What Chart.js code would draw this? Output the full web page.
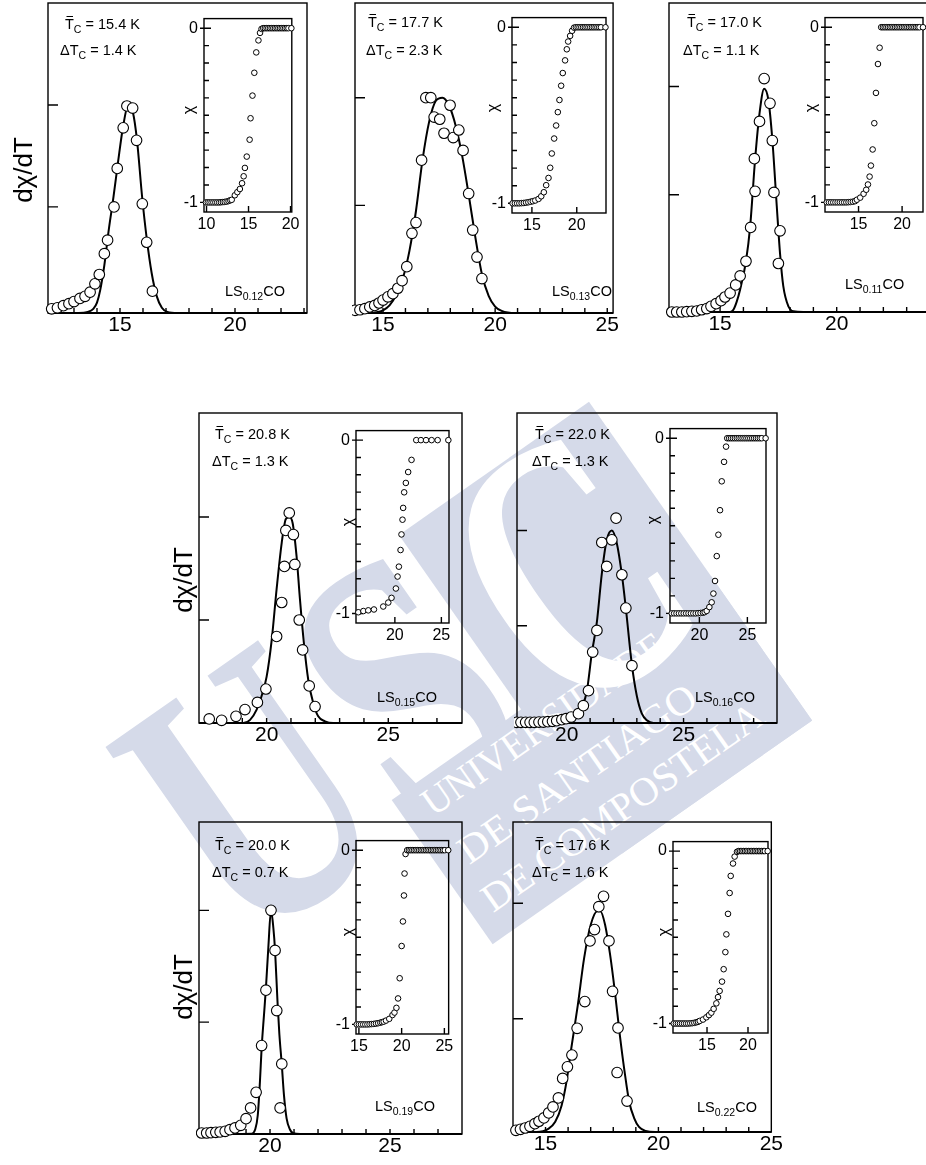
<!DOCTYPE html>
<html>
<head>
<meta charset="utf-8">
<script src="https://cdn.jsdelivr.net/npm/chart.js@4.4.1/dist/chart.umd.min.js"></script>
<style>
  html, body { margin: 0; padding: 0; background: #fff; overflow: hidden; }
  body { width: 926px; height: 1165px; position: relative; }
  .box { position: absolute; z-index: 1; }
  #wm { position: absolute; left: 0; top: 0; z-index: 0; }
  #txt { position: absolute; left: 0; top: 0; z-index: 2; }
</style>
</head>
<body>
<svg id="wm" width="926" height="1165"></svg>
<div id="charts"></div>
<svg id="txt" width="926" height="1165"></svg>
<script>
(function () {
  'use strict';

  // --- Labels ---
  const tcMean  = ['15.4', '17.7', '17.0', '20.8', '22.0', '20.0', '17.6'];
  const tcWidth = ['1.4', '2.3', '1.1', '1.3', '1.3', '0.7', '1.6'];
  const sampleX = ['0.12', '0.13', '0.11', '0.15', '0.16', '0.19', '0.22'];

  // --- LS0.12CO ---
  const ls12_T    = [12.03, 12.28, 12.54, 12.78, 13.00, 13.26, 13.48, 13.70, 13.91, 14.10, 14.32, 14.46, 14.74, 14.88, 15.14, 15.30, 15.55, 15.72, 15.97, 16.16, 16.41];
  const ls12_dchi = [0.04, 0.05, 0.07, 0.09, 0.11, 0.14, 0.16, 0.20, 0.28, 0.37, 0.57, 0.70, 1.02, 1.39, 1.78, 1.99, 1.97, 1.66, 1.05, 0.68, 0.21];
  const ls12_fitT = [11.9, 13.2, 13.6, 13.84, 14.0, 14.14, 14.32, 14.5, 14.72, 14.92, 15.14, 15.36, 15.56, 15.74, 15.96, 16.16, 16.38, 16.6, 16.82, 17.06, 17.5, 23.1];
  const ls12_fit  = [0, 0, 0.01, 0.04, 0.1, 0.22, 0.46, 0.78, 1.12, 1.46, 1.8, 2.0, 1.93, 1.66, 1.12, 0.72, 0.38, 0.16, 0.05, 0.01, 0, 0];
  const ls12_insT = [9.93, 10.15, 10.37, 10.6, 10.82, 11.05, 11.27, 11.5, 11.72, 11.95, 12.17, 12.4, 12.62, 12.82, 13.0, 13.37, 13.67, 13.97, 14.23, 14.42, 14.57, 14.79, 15.13, 15.24, 15.47, 15.69, 15.92, 16.18, 16.37, 16.55, 16.75, 16.95, 17.15, 17.35, 17.55, 17.75, 17.95, 18.15, 18.35, 18.55, 18.75, 18.95, 19.15, 19.35, 19.55, 19.75, 20.1];
  const ls12_insChi = [-1, -1, -1, -1, -1, -1, -1, -1, -0.999, -0.998, -0.997, -0.995, -0.992, -0.988, -0.985, -0.959, -0.941, -0.923, -0.89, -0.85, -0.802, -0.737, -0.64, -0.517, -0.387, -0.256, -0.139, -0.07, -0.027, -0.004, 0, 0, 0, 0, 0, 0, 0, 0, 0, 0, 0, 0, 0, 0, 0, 0, 0];
  const ls12_xMinor = [12, 13, 14, 15, 16, 17, 18, 19, 20, 21, 22, 23];
  const ls12_xLabels = [15, 20];
  const ls12_yTicks = [1.02, 2];
  const ls12_insLabels = [10, 15, 20];

  // --- LS0.13CO ---
  const ls13_T    = [13.75, 13.97, 14.19, 14.41, 14.63, 14.82, 15.0, 15.22, 15.44, 15.66, 15.85, 16.06, 16.29, 16.47, 16.72, 16.91, 17.13, 17.28, 17.53, 17.72, 17.99, 18.13, 18.38, 18.57, 18.82, 19.0, 19.19, 19.41];
  const ls13_dchi = [0.025, 0.03, 0.04, 0.056, 0.07, 0.093, 0.12, 0.15, 0.18, 0.23, 0.30, 0.43, 0.74, 0.84, 1.42, 2.0, 2.0, 1.82, 1.80, 1.67, 1.93, 1.63, 1.70, 1.51, 1.11, 0.77, 0.52, 0.32];
  const ls13_fitT = [13.75, 14.4, 14.7, 15.0, 15.29, 15.59, 15.88, 16.18, 16.47, 16.76, 17.06, 17.35, 17.65, 17.94, 18.24, 18.53, 18.82, 19.12, 19.41, 19.71, 20.0, 20.29, 20.9, 25.26];
  const ls13_fit  = [0, 0, 0.006, 0.025, 0.07, 0.17, 0.32, 0.58, 0.95, 1.42, 1.78, 1.97, 2.0, 1.93, 1.74, 1.46, 1.1, 0.7, 0.36, 0.16, 0.06, 0.02, 0, 0];
  const ls13_insT = [12.85, 13.1, 13.35, 13.6, 13.85, 14.1, 14.35, 14.6, 14.85, 15.1, 15.37, 15.74, 16.04, 16.33, 16.59, 16.85, 17.04, 17.22, 17.48, 17.7, 17.89, 18.07, 18.26, 18.44, 18.7, 18.89, 19.04, 19.26, 19.48, 19.7, 19.9, 20.1, 20.3, 20.5, 20.7, 20.9, 21.1, 21.3, 21.5, 21.7, 21.9, 22.1, 22.3, 22.5, 22.7, 23.2];
  const ls13_insChi = [-1, -1, -1, -1, -0.999, -0.998, -0.996, -0.994, -0.991, -0.988, -0.984, -0.975, -0.96, -0.937, -0.897, -0.856, -0.798, -0.717, -0.632, -0.558, -0.482, -0.413, -0.332, -0.26, -0.188, -0.125, -0.081, -0.049, -0.02, -0.002, 0, 0, 0, 0, 0, 0, 0, 0, 0, 0, 0, 0, 0, 0, 0, 0];
  const ls13_xMinor = [14, 15, 16, 17, 18, 19, 20, 21, 22, 23, 24, 25];
  const ls13_xLabels = [15, 20, 25];
  const ls13_yTicks = [1, 2];
  const ls13_insLabels = [15, 20];

  // --- LS0.11CO ---
  const ls11_T    = [12.93, 13.14, 13.36, 13.57, 13.79, 14.0, 14.21, 14.43, 14.61, 14.83, 15.04, 15.21, 15.43, 15.67, 15.86, 16.11, 16.31, 16.5, 16.47, 16.69, 16.89, 17.14, 17.24, 17.31, 17.57, 17.5];
  const ls11_dchi = [0, 0, 0, 0.003, 0.006, 0.009, 0.02, 0.03, 0.05, 0.074, 0.1, 0.133, 0.168, 0.24, 0.32, 0.45, 0.75, 1.07, 1.36, 1.69, 2.07, 1.85, 1.52, 1.06, 0.72, 0.43];
  const ls11_fitT = [12.81, 15.43, 15.57, 15.71, 15.86, 16.11, 16.29, 16.5, 16.69, 16.89, 17.07, 17.24, 17.43, 17.57, 17.71, 17.93, 18.14, 18.57, 24.0];
  const ls11_fit  = [0, 0, 0.02, 0.09, 0.2, 0.45, 0.76, 1.35, 1.76, 1.98, 1.88, 1.53, 0.94, 0.52, 0.23, 0.05, 0.006, 0, 0];
  const ls11_insT = [11.35, 11.6, 11.85, 12.1, 12.35, 12.6, 12.85, 13.1, 13.35, 13.6, 13.85, 14.1, 14.35, 14.6, 14.81, 15.19, 15.58, 15.88, 16.08, 16.27, 16.42, 16.62, 16.81, 17.0, 17.23, 17.42, 17.6, 17.8, 18.0, 18.2, 18.4, 18.6, 18.8, 19.0, 19.2, 19.4, 19.6, 19.8, 20.0, 20.2, 20.4, 20.6, 20.8, 21.0, 21.2, 21.4, 21.6, 21.8, 22.0, 22.4];
  const ls11_insChi = [-1, -1, -1, -1, -1, -1, -1, -1, -1, -1, -0.999, -0.998, -0.996, -0.993, -0.985, -0.973, -0.951, -0.928, -0.898, -0.853, -0.79, -0.698, -0.548, -0.375, -0.21, -0.117, 0, 0, 0, 0, 0, 0, 0, 0, 0, 0, 0, 0, 0, 0, 0, 0, 0, 0, 0, 0, 0, 0, 0, 0];
  const ls11_xMinor = [13, 14, 15, 16, 17, 18, 19, 20, 21, 22, 23];
  const ls11_xLabels = [15, 20];
  const ls11_yTicks = [1.04, 2];
  const ls11_insLabels = [15, 20];

  // --- LS0.15CO ---
  const ls15_T    = [17.64, 18.15, 18.74, 19.11, 19.62, 19.97, 20.41, 20.62, 20.73, 20.79, 20.93, 21.1, 21.16, 21.34, 21.48, 21.75, 21.99];
  const ls15_dchi = [0.04, 0.026, 0.065, 0.13, 0.2, 0.33, 0.84, 1.17, 1.52, 1.87, 2.04, 1.83, 1.54, 1.0, 0.71, 0.36, 0.16];
  const ls15_fitT = [17.22, 19.04, 19.32, 19.59, 19.79, 20.0, 20.21, 20.41, 20.62, 20.79, 20.93, 21.07, 21.23, 21.37, 21.53, 21.71, 21.92, 22.12, 22.4, 22.74, 28.03];
  const ls15_fit  = [0, 0, 0.03, 0.13, 0.26, 0.45, 0.81, 1.3, 1.75, 1.98, 2.0, 1.94, 1.62, 1.2, 0.78, 0.42, 0.19, 0.065, 0.016, 0, 0];
  const ls15_insT = [16.07, 16.61, 17.14, 17.75, 18.75, 19.29, 19.64, 20.11, 20.29, 20.43, 20.61, 20.71, 20.82, 20.89, 21.0, 21.18, 21.43, 21.79, 22.3, 22.8, 23.35, 23.95, 24.6, 25.75];
  const ls15_insChi = [-0.993, -0.986, -0.982, -0.977, -0.96, -0.937, -0.91, -0.856, -0.787, -0.73, -0.634, -0.544, -0.459, -0.391, -0.301, -0.247, -0.184, -0.114, 0, 0, 0, 0, 0, 0];
  const ls15_xMinor = [18, 19, 20, 21, 22, 23, 24, 25, 26, 27];
  const ls15_xLabels = [20, 25];
  const ls15_yTicks = [1, 2];
  const ls15_insLabels = [20, 25];

  // --- LS0.16CO ---
  const ls16_T    = [17.86, 18.04, 18.24, 18.43, 18.61, 18.81, 19.0, 19.19, 19.39, 19.57, 19.79, 19.97, 20.19, 20.5, 20.71, 20.93, 21.11, 21.29, 21.5, 21.71, 21.93, 22.11, 22.36, 22.53, 22.79];
  const ls16_dchi = [0.007, 0.007, 0.007, 0.007, 0.007, 0.01, 0.01, 0.014, 0.017, 0.024, 0.035, 0.045, 0.062, 0.097, 0.18, 0.336, 0.737, 0.962, 1.875, 1.626, 1.903, 2.128, 1.54, 1.194, 0.595];
  const ls16_fitT = [17.87, 20.0, 20.36, 20.64, 20.86, 21.07, 21.29, 21.5, 21.71, 21.93, 22.14, 22.36, 22.53, 22.79, 23.0, 23.21, 23.43, 23.71, 29.0];
  const ls16_fit  = [0, 0.005, 0.05, 0.16, 0.33, 0.72, 1.05, 1.55, 1.9, 2.0, 1.87, 1.54, 1.19, 0.6, 0.28, 0.1, 0.028, 0, 0];
  const ls16_insT = [17.12, 17.37, 17.62, 17.87, 18.12, 18.37, 18.62, 18.87, 19.12, 19.37, 19.62, 19.87, 20.12, 20.37, 20.55, 20.76, 21.04, 21.28, 21.46, 21.63, 21.81, 21.98, 22.15, 22.33, 22.57, 22.78, 22.9, 23.1, 23.3, 23.5, 23.7, 23.9, 24.1, 24.3, 24.5, 24.7, 24.9, 25.1, 25.3, 25.5, 25.7, 25.9, 26.1, 26.3, 26.5, 26.9];
  const ls16_insChi = [-1, -1, -1, -1, -1, -1, -1, -1, -1, -1, -1, -0.999, -0.998, -0.996, -0.993, -0.986, -0.964, -0.937, -0.887, -0.815, -0.673, -0.551, -0.411, -0.246, -0.135, -0.048, 0, 0, 0, 0, 0, 0, 0, 0, 0, 0, 0, 0, 0, 0, 0, 0, 0, 0, 0, 0];
  const ls16_xMinor = [18, 19, 20, 21, 22, 23, 24, 25, 26, 27, 28];
  const ls16_xLabels = [20, 25];
  const ls16_yTicks = [1.01, 2];
  const ls16_insLabels = [20, 25];

  // --- LS0.19CO ---
  const ls19_T    = [17.15, 17.36, 17.54, 17.74, 17.92, 18.13, 18.33, 18.54, 18.78, 19.0, 19.19, 19.42, 19.65, 19.83, 20.04, 20.21, 20.28, 20.49, 20.42];
  const ls19_dchi = [0.009, 0.009, 0.012, 0.015, 0.018, 0.024, 0.039, 0.054, 0.078, 0.137, 0.233, 0.373, 0.791, 1.286, 2.0, 1.642, 1.104, 0.627, 0.233];
  const ls19_fitT = [17.04, 19.24, 19.38, 19.49, 19.58, 19.65, 19.75, 19.83, 19.93, 20.04, 20.14, 20.21, 20.31, 20.39, 20.49, 20.58, 20.69, 20.83, 20.97, 21.25, 28.0];
  const ls19_fit  = [0, 0.003, 0.04, 0.17, 0.47, 0.77, 1.07, 1.31, 1.67, 2.0, 1.84, 1.64, 1.19, 0.89, 0.62, 0.35, 0.14, 0.04, 0.006, 0, 0];
  const ls19_insT = [14.75, 15.0, 15.25, 15.5, 15.75, 16.0, 16.25, 16.5, 16.75, 17.0, 17.25, 17.5, 17.7, 17.9, 18.17, 18.55, 18.93, 19.16, 19.39, 19.58, 19.77, 20.0, 20.15, 20.27, 20.34, 20.46, 20.65, 20.85, 21.05, 21.25, 21.45, 21.65, 21.85, 22.05, 22.25, 22.45, 22.65, 22.85, 23.05, 23.25, 23.45, 23.65, 23.85, 24.05, 24.25, 24.45, 24.65, 24.85, 25.05, 25.45];
  const ls19_insChi = [-1, -1, -1, -1, -1, -1, -0.999, -0.998, -0.997, -0.995, -0.993, -0.99, -0.987, -0.984, -0.978, -0.968, -0.946, -0.932, -0.905, -0.851, -0.735, -0.55, -0.409, -0.26, -0.134, -0.022, 0, 0, 0, 0, 0, 0, 0, 0, 0, 0, 0, 0, 0, 0, 0, 0, 0, 0, 0, 0, 0, 0, 0, 0];
  const ls19_xMinor = [18, 19, 20, 21, 22, 23, 24, 25, 26, 27];
  const ls19_xLabels = [20, 25];
  const ls19_yTicks = [1, 2];
  const ls19_insLabels = [15, 20, 25];

  // --- LS0.22CO ---
  const ls22_T    = [13.69, 13.89, 14.1, 14.31, 14.53, 14.71, 14.93, 15.14, 15.33, 15.57, 15.76, 15.97, 16.17, 16.4, 16.74, 16.97, 17.17, 17.36, 17.57, 17.81, 17.97, 18.21, 18.17, 18.61];
  const ls22_dchi = [0.015, 0.023, 0.035, 0.05, 0.073, 0.094, 0.123, 0.167, 0.219, 0.298, 0.468, 0.57, 0.673, 0.906, 1.14, 1.67, 1.77, 1.97, 2.06, 1.67, 1.23, 0.91, 0.52, 0.27];
  const ls22_fitT = [13.56, 14.6, 15.14, 15.43, 15.71, 15.93, 16.14, 16.43, 16.71, 17.0, 17.29, 17.43, 17.64, 17.86, 18.07, 18.29, 18.5, 18.71, 18.93, 19.14, 19.43, 19.86, 25.0];
  const ls22_fit  = [0, 0, 0.03, 0.09, 0.23, 0.44, 0.73, 1.11, 1.52, 1.81, 1.93, 1.93, 1.81, 1.55, 1.23, 0.85, 0.53, 0.26, 0.12, 0.044, 0.009, 0, 0];
  const ls22_insT = [10.95, 11.2, 11.45, 11.7, 11.95, 12.2, 12.45, 12.7, 12.95, 13.2, 13.45, 13.7, 13.9, 14.11, 14.51, 14.92, 15.24, 15.53, 15.81, 16.14, 16.34, 16.54, 16.83, 17.03, 17.24, 17.36, 17.56, 17.76, 17.89, 18.17, 18.37, 18.66, 18.85, 19.05, 19.25, 19.45, 19.65, 19.85, 20.05, 20.25, 20.45, 20.65, 20.85, 21.05, 21.25, 21.45, 21.65, 21.85, 22.05, 22.4];
  const ls22_insChi = [-1, -1, -1, -1, -1, -1, -1, -1, -0.999, -0.998, -0.996, -0.993, -0.99, -0.985, -0.977, -0.964, -0.951, -0.937, -0.915, -0.883, -0.847, -0.811, -0.757, -0.685, -0.586, -0.483, -0.364, -0.243, -0.144, -0.072, -0.032, -0.004, 0, 0, 0, 0, 0, 0, 0, 0, 0, 0, 0, 0, 0, 0, 0, 0, 0, 0];
  const ls22_xMinor = [14, 15, 16, 17, 18, 19, 20, 21, 22, 23, 24];
  const ls22_xLabels = [15, 20, 25];
  const ls22_yTicks = [0.99, 2];
  const ls22_insLabels = [15, 20];

  // inset y axis (same for all)
  const insYLabels = [0, -1];
  const insYMinor = [-0.9, -0.8, -0.7, -0.6, -0.5, -0.4, -0.3, -0.2, -0.1];

  // --- Layout: frame boxes [left, top, right, bottom] in page px ---
  const panels = [
    { box: [48, 3, 307, 313], xr: [11.87, 23.13], yr: [0, 2.98], T: ls12_T, d: ls12_dchi, fT: ls12_fitT, f: ls12_fit, xMinor: ls12_xMinor, xLab: ls12_xLabels, yTicks: ls12_yTicks,
      ins: { box: [204, 7, 297, 212], xr: [9.7, 20.15], T: ls12_insT, c: ls12_insChi, xLab: ls12_insLabels },
      tcAt: [65, 29], dtAt: [60, 55], lsAt: [225, 296], chiAt: [188, 110], yTitleAt: [23, 170] },
    { box: [355, 3, 616, 313], xr: [13.75, 25.26], yr: [0, 2.88], T: ls13_T, d: ls13_dchi, fT: ls13_fitT, f: ls13_fit, xMinor: ls13_xMinor, xLab: ls13_xLabels, yTicks: ls13_yTicks,
      ins: { box: [512, 6, 606, 213], xr: [12.78, 23.26], T: ls13_insT, c: ls13_insChi, xLab: ls13_insLabels },
      tcAt: [368, 27], dtAt: [366, 55], lsAt: [552, 296], chiAt: [492, 108] },
    { box: [669, 3, 930, 312], xr: [12.81, 24.0], yr: [0, 2.74], T: ls11_T, d: ls11_dchi, fT: ls11_fitT, f: ls11_fit, xMinor: ls11_xMinor, xLab: ls11_xLabels, yTicks: ls11_yTicks,
      ins: { box: [825, 6, 923, 212], xr: [11.15, 22.4], T: ls11_insT, c: ls11_insChi, xLab: ls11_insLabels },
      tcAt: [687, 27], dtAt: [683, 55], lsAt: [845, 289], chiAt: [810, 108] },
    { box: [199, 413, 462, 723], xr: [17.22, 28.03], yr: [0, 3.01], T: ls15_T, d: ls15_dchi, fT: ls15_fitT, f: ls15_fit, xMinor: ls15_xMinor, xLab: ls15_xLabels, yTicks: ls15_yTicks,
      ins: { box: [356, 419, 449, 623], xr: [15.82, 25.82], T: ls15_insT, c: ls15_insChi, xLab: ls15_insLabels },
      tcAt: [215, 439], dtAt: [212, 466], lsAt: [377, 702], chiAt: [347, 522], yTitleAt: [183, 580] },
    { box: [517, 413, 777, 723], xr: [17.87, 29.0], yr: [0, 3.22], T: ls16_T, d: ls16_dchi, fT: ls16_fitT, f: ls16_fit, xMinor: ls16_xMinor, xLab: ls16_xLabels, yTicks: ls16_yTicks,
      ins: { box: [670, 417, 766, 623], xr: [16.94, 26.94], T: ls16_insT, c: ls16_insChi, xLab: ls16_insLabels },
      tcAt: [535, 439], dtAt: [532, 466], lsAt: [695, 702], chiAt: [652, 520] },
    { box: [199, 822, 462, 1134], xr: [17.04, 28.0], yr: [0, 2.79], T: ls19_T, d: ls19_dchi, fT: ls19_fitT, f: ls19_fit, xMinor: ls19_xMinor, xLab: ls19_xLabels, yTicks: ls19_yTicks,
      ins: { box: [356, 829, 451, 1034], xr: [14.66, 25.5], T: ls19_insT, c: ls19_insChi, xLab: ls19_insLabels },
      tcAt: [215, 850], dtAt: [212, 877], lsAt: [375, 1111], chiAt: [347, 932], yTitleAt: [183, 987] },
    { box: [513, 822, 780, 1132], xr: [13.56, 25.0], yr: [0, 2.71], T: ls22_T, d: ls22_dchi, fT: ls22_fitT, f: ls22_fit, xMinor: ls22_xMinor, xLab: ls22_xLabels, yTicks: ls22_yTicks,
      ins: { box: [673, 830, 768, 1033], xr: [10.85, 22.44], T: ls22_insT, c: ls22_insChi, xLab: ls22_insLabels },
      tcAt: [535, 850], dtAt: [532, 877], lsAt: [697, 1112], chiAt: [663, 932] }
  ];

  Chart.defaults.font.family = "'Liberation Sans', Arial, Helvetica, sans-serif";
  Chart.defaults.color = '#000';

  const pts = (xs, ys) => xs.map((x, i) => ({ x: x, y: ys[i] }));
  const noGrid = { display: false, drawTicks: false };

  // frame box + inward ticks, drawn under the markers
  const framePlugin = {
    id: 'frame',
    beforeDatasetsDraw(chart, args, o) {
      const { ctx, chartArea: a, scales: { x, y } } = chart;
      ctx.save();
      ctx.strokeStyle = '#000';
      ctx.lineWidth = o.width;
      ctx.strokeRect(a.left, a.top, a.right - a.left, a.bottom - a.top);
      ctx.beginPath();
      o.xTicks.forEach(function (v) {
        const px = x.getPixelForValue(v);
        ctx.moveTo(px, a.bottom); ctx.lineTo(px, a.bottom - o.xLen);
      });
      o.yTicks.forEach(function (v) {
        const py = y.getPixelForValue(v);
        ctx.moveTo(a.left, py); ctx.lineTo(a.left + o.yLen, py);
      });
      (o.yMajor || []).forEach(function (v) {
        const py = y.getPixelForValue(v);
        ctx.moveTo(a.left - 4, py); ctx.lineTo(a.left + o.yLen + 2, py);
      });
      ctx.stroke();
      if (o.base) {
        ctx.lineWidth = o.base;
        ctx.beginPath();
        ctx.moveTo(a.left, a.bottom); ctx.lineTo(a.right, a.bottom);
        ctx.stroke();
      }
      ctx.restore();
    }
  };

  function addCanvas(box, pad) {
    const div = document.createElement('div');
    div.className = 'box';
    const w = box[2] - box[0] + pad.l + pad.r;
    const h = box[3] - box[1] + pad.t + pad.b;
    div.style.cssText = 'left:' + (box[0] - pad.l) + 'px;top:' + (box[1] - pad.t) + 'px;width:' + w + 'px;height:' + h + 'px';
    const cv = document.createElement('canvas');
    div.appendChild(cv);
    document.getElementById('charts').appendChild(div);
    return cv;
  }

  function xAxis(range, labels, height, padding, size) {
    return {
      type: 'linear', min: range[0], max: range[1],
      grid: noGrid, border: { display: false },
      afterBuildTicks: function (s) { s.ticks = labels.map(function (v) { return { value: v }; }); },
      afterFit: function (s) { s.height = height; },
      ticks: { autoSkip: false, maxRotation: 0, padding: padding, font: { size: size }, callback: function (v) { return String(v); } }
    };
  }

  function baseOptions(padLeft, pad, scales, frame) {
    return {
      responsive: true, maintainAspectRatio: false, animation: false, devicePixelRatio: 1,
      layout: { autoPadding: false, padding: { left: padLeft, top: pad.t, right: pad.r, bottom: 0 } },
      plugins: { legend: { display: false }, tooltip: { enabled: false }, frame: frame },
      scales: scales
    };
  }

  function mainChart(p) {
    const pad = { l: 3, t: 3, r: 3, b: 34 };
    return new Chart(addCanvas(p.box, pad), {
      type: 'scatter',
      data: {
        datasets: [
          { data: pts(p.T, p.d), pointRadius: 5.3, pointBorderWidth: 1.1, pointBackgroundColor: '#fff', pointBorderColor: '#000', clip: false },
          { data: pts(p.fT, p.f), showLine: true, pointRadius: 0, borderColor: '#000', borderWidth: 2, cubicInterpolationMode: 'monotone' }
        ]
      },
      options: baseOptions(pad.l, pad, {
        x: xAxis(p.xr, p.xLab, pad.b, 0, 21),
        y: { min: p.yr[0], max: p.yr[1], grid: noGrid, border: { display: false }, ticks: { display: false },
             afterFit: function (s) { s.width = 0; } }
      }, { width: 1.4, base: 2, xTicks: p.xMinor, xLen: 5, yTicks: p.yTicks, yLen: 10 }),
      plugins: [framePlugin]
    });
  }

  function insetChart(q) {
    const pad = { l: 30, t: 4, r: 5, b: 26 };
    return new Chart(addCanvas(q.box, pad), {
      type: 'scatter',
      data: {
        datasets: [
          { data: pts(q.T, q.c), pointRadius: 2.8, pointBorderWidth: 1, pointBackgroundColor: '#fff', pointBorderColor: '#000', clip: false }
        ]
      },
      options: baseOptions(0, pad, {
        x: xAxis(q.xr, q.xLab, pad.b, 2.5, 16),
        y: { min: -1.055, max: 0.055, grid: noGrid, border: { display: false },
             afterBuildTicks: function (s) { s.ticks = insYLabels.map(function (v) { return { value: v }; }); },
             afterFit: function (s) { s.width = pad.l; },
             ticks: { padding: 6, font: { size: 16 }, callback: function (v) { return String(v); } } }
      }, { width: 1.4, xTicks: q.xLab, xLen: 6, yTicks: insYMinor, yLen: 5, yMajor: insYLabels }),
      plugins: [framePlugin]
    });
  }

  panels.forEach(function (p) {
    mainChart(p);
    insetChart(p.ins);
  });

  // --- annotation texts ---
  let s = '';
  panels.forEach(function (p, i) {
    const a = p.tcAt, b = p.dtAt, c = p.lsAt, q = p.chiAt;
    s += '<text x="' + a[0] + '" y="' + a[1] + '">T<tspan dy="4" font-size="10.5">C</tspan><tspan dy="-4"> = ' + tcMean[i] + ' K</tspan></text>';
    s += '<line x1="' + (a[0] + 1.5) + '" x2="' + (a[0] + 8) + '" y1="' + (a[1] - 12.5) + '" y2="' + (a[1] - 12.5) + '" stroke="#000" stroke-width="1"/>';
    s += '<text x="' + b[0] + '" y="' + b[1] + '">\u0394T<tspan dy="4" font-size="10.5">C</tspan><tspan dy="-4"> = ' + tcWidth[i] + ' K</tspan></text>';
    s += '<text x="' + c[0] + '" y="' + c[1] + '">LS<tspan dy="4" font-size="10.5">' + sampleX[i] + '</tspan><tspan dy="-4">CO</tspan></text>';
    s += '<text x="' + q[0] + '" y="' + q[1] + '" font-size="16" text-anchor="middle" dominant-baseline="central" transform="rotate(-90 ' + q[0] + ' ' + q[1] + ')">\u03c7</text>';
    if (p.yTitleAt) {
      const t = p.yTitleAt;
      s += '<text x="' + t[0] + '" y="' + t[1] + '" font-size="26" text-anchor="middle" dominant-baseline="central" transform="rotate(-90 ' + t[0] + ' ' + t[1] + ')">d\u03c7/dT</text>';
    }
  });
  document.getElementById('txt').innerHTML =
    '<g font-family="\'Liberation Sans\', Arial, sans-serif" font-size="14.5" fill="#000" style="white-space:pre">' + s + '</g>';

  // --- university watermark (behind the plots) ---
  const wmBlue = '#d5dae9';
  const serif = "'Liberation Serif', 'DejaVu Serif', serif";
  document.getElementById('wm').innerHTML =
    '<g transform="rotate(-35)" font-family="' + serif.replace(/'/g, '&apos;') + '">' +
    '<text x="-349" y="920" font-size="378" font-weight="bold" fill="' + wmBlue + '" textLength="200" lengthAdjust="spacingAndGlyphs">U</text>' +
    '<text x="-142" y="920" font-size="378" font-weight="bold" fill="' + wmBlue + '" textLength="160" lengthAdjust="spacingAndGlyphs">S</text>' +
    '<rect x="20" y="667" width="232" height="389" fill="' + wmBlue + '"/>' +
    '<rect x="-138" y="880" width="390" height="176" fill="' + wmBlue + '"/>' +
    '<text x="45" y="920" font-size="378" font-weight="bold" fill="#fff" textLength="185" lengthAdjust="spacingAndGlyphs">C</text>' +
    '<g fill="#fff" font-size="40">' +
    '<text x="-114" y="918" textLength="288" lengthAdjust="spacingAndGlyphs">UNIVERSIDADE</text>' +
    '<text x="-112" y="978" textLength="282" lengthAdjust="spacingAndGlyphs">DE SANTIAGO</text>' +
    '<text x="-120" y="1031" textLength="334" lengthAdjust="spacingAndGlyphs">DE COMPOSTELA</text>' +
    '</g></g>';
})();
</script>
</body>
</html>
